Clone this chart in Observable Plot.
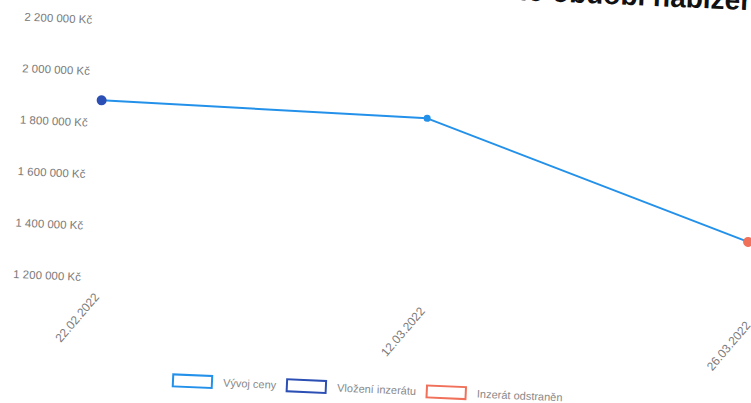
<!DOCTYPE html>
<html>
<head>
<meta charset="utf-8">
<script src="https://cdn.jsdelivr.net/npm/d3@7"></script>
<script src="https://cdn.jsdelivr.net/npm/@observablehq/plot@0.6"></script>
<style>
  html, body { margin: 0; padding: 0; background: #fff; }
  #frame { position: relative; width: 751px; height: 403px; overflow: hidden; background: #fff; }
  #inner { position: absolute; left: 0; top: 0; width: 751px; height: 403px; background: #fff;
           transform: rotate(2.5deg); transform-origin: 375.5px 201.5px;
           font-family: "Liberation Sans", Arial, Helvetica, sans-serif; }
  #title { position: absolute; top: -31px; white-space: nowrap; font-weight: bold; font-size: 28px; color: #111; }
  #chart svg { display: block; overflow: visible; }
  #legend { position: absolute; left: 0; top: 382px; width: 751px; display: flex; justify-content: center; gap: 10px; font-size: 11px; color: #888; }
  .item { display: flex; align-items: center; gap: 10px; }
  .box { width: 37px; height: 10px; border-width: 2px; border-style: solid; background: #fff; }
</style>
</head>
<body>
<div id="frame"><div id="inner">
  <div id="title"><span id="tpre">Vývoj ceny během celého </span><span>období nabízení</span></div>
  <div id="chart"></div>
  <div id="legend"></div>
</div></div>
<script>
// data
const dates = ["22.02.2022", "12.03.2022", "26.03.2022"];
const prices = [1890000, 1875000, 1450000];
const pointKinds = ["Vložení inzerátu", "Vývoj ceny", "Inzerát odstraněn"];
const yTicks = [1200000, 1400000, 1600000, 1800000, 2000000, 2200000];
const legendLabels = ["Vývoj ceny", "Vložení inzerátu", "Inzerát odstraněn"];
const legendColors = ["#2391ea", "#2b4fb4", "#f0705a"];

const kindColor = new Map(legendLabels.map((l, i) => [l, legendColors[i]]));
const kindRadius = new Map([["Vložení inzerátu", 5], ["Vývoj ceny", 3.5], ["Inzerát odstraněn", 5]]);
const rows = dates.map((d, i) => ({date: d, price: prices[i], kind: pointKinds[i]}));

const czk = d3.formatLocale({decimal: ",", thousands: " ", grouping: [3], currency: ["", " Kč"]}).format("$,.0f");

const chart = Plot.plot({
  width: 751,
  height: 375,
  marginLeft: 96,
  marginRight: 2,
  marginTop: 32,
  marginBottom: 85.5,
  style: {fontFamily: "Liberation Sans, Arial, sans-serif", background: "transparent"},
  x: {type: "point", domain: dates, padding: 0},
  y: {domain: [1200000, 2200000]},
  r: {type: "identity"},
  marks: [
    Plot.axisY({ticks: yTicks, tickFormat: czk, tickSize: 0, tickPadding: 12, fontSize: 11.5, fill: "#7a7a7a"}),
    Plot.axisX({tickSize: 0, tickPadding: 14, tickRotate: -52, fontSize: 12, fill: "#7a7a7a",
                textAnchor: "end", lineAnchor: "top", label: null}),
    Plot.line(rows, {x: "date", y: "price", stroke: legendColors[0], strokeWidth: 2}),
    Plot.dot(rows, {x: "date", y: "price", r: d => kindRadius.get(d.kind), fill: d => kindColor.get(d.kind), stroke: null})
  ]
});
document.getElementById("chart").appendChild(chart);

// legend
const leg = document.getElementById("legend");
legendLabels.forEach((l, i) => {
  const it = document.createElement("div");
  it.className = "item";
  const b = document.createElement("div");
  b.className = "box";
  b.style.borderColor = legendColors[i];
  const t = document.createElement("span");
  t.textContent = l;
  it.appendChild(b); it.appendChild(t);
  leg.appendChild(it);
});

// title placement: "období" starts at ~x=544 (unrotated frame)
const pre = document.getElementById("tpre").getBoundingClientRect().width;
document.getElementById("title").style.left = (544 - pre) + "px";
</script>
</body>
</html>
